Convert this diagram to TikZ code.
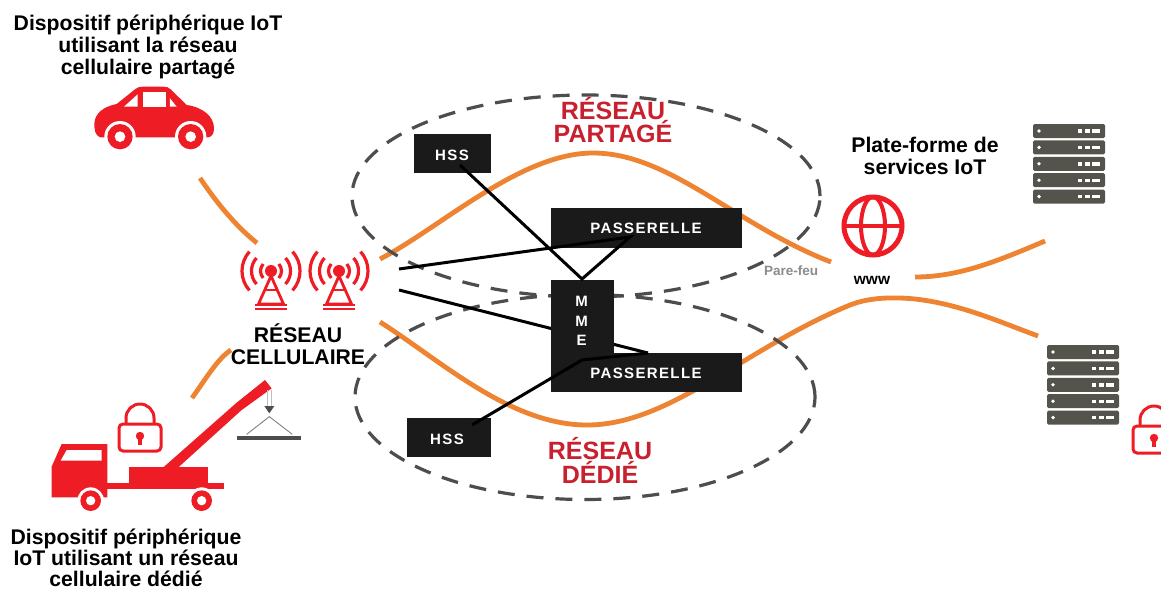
\documentclass[tikz,border=0pt]{standalone}
\usepackage{fontspec}
\setmainfont{Liberation Sans}
\newfontfamily\spacedsans[LetterSpace=9]{Liberation Sans}
\usetikzlibrary{shapes.geometric,calc}
\definecolor{iconred}{HTML}{EE1C25}
\definecolor{titlered}{HTML}{C9202F}
\definecolor{wire}{HTML}{EE8431}
\definecolor{boxblack}{HTML}{1A1A1A}
\definecolor{dashgrey}{HTML}{4D4D4D}
\definecolor{rackgrey}{HTML}{55544C}
\definecolor{firegrey}{HTML}{8C8C8C}
\tikzset{
  wireline/.style={draw=wire,line width=4.8pt},
  netzone/.style={ellipse,draw=dashgrey,line width=3.2pt,dash pattern=on 17pt off 12pt,inner sep=0pt,minimum width=#1},
  blackbox/.style={rectangle,fill=boxblack,inner sep=0pt},
  boxtext/.style={inner sep=0pt,align=center,text=white,font=\fontsize{15}{19.5}\selectfont\spacedsans\bfseries},
  linkline/.style={draw=black,line width=3pt},
  caption/.style={align=center,inner sep=0pt,text=black,font=\fontsize{21.2}{22}\selectfont\bfseries},
  zonetitle/.style={align=center,inner sep=0pt,text=titlered,font=\fontsize{25}{21}\selectfont\bfseries},
}
\newcommand{\mytower}[2]{%
  \foreach \rr in {10.5,19.5,29}{
    \draw[iconred,line width=3.2pt] ([shift={(42:\rr)}]#1,#2) arc[start angle=-42,end angle=42,radius=\rr pt];
    \draw[iconred,line width=3.2pt] ([shift={(138:\rr)}]#1,#2) arc[start angle=-138,end angle=-222,radius=\rr pt];
  }
  \fill[iconred] (#1,#2) circle (6);
  \draw[iconred,line width=2.8pt,line join=miter] (#1,#2+5) -- (#1-12.5,#2+33) -- (#1+12.5,#2+33) -- cycle;
  \draw[iconred,line width=2pt] (#1-6.5,#2+19) -- (#1+6.5,#2+19);
  \draw[iconred,line width=2.2pt] (#1-16,#2+34) -- (#1+16,#2+34);
  \draw[iconred,line width=2.2pt] (#1-16,#2+38) -- (#1+16,#2+38);
}
\newcommand{\mylock}[2]{%
  \draw[iconred,line width=3pt,rounded corners=4pt] (#1,#2+21) rectangle (#1+42,#2+48);
  \draw[iconred,line width=3pt] (#1+7,#2+21) -- (#1+7,#2+15) arc[start angle=180,end angle=0,radius=14pt] -- (#1+35,#2+21);
  \fill[iconred] (#1+21,#2+33) circle (4.2);
  \fill[iconred] (#1+19,#2+34) rectangle (#1+23,#2+42);
}
\newcommand{\myrack}[2]{%
  \foreach \n in {0,...,4}{
    \fill[rackgrey,rounded corners=1.5pt] (#1,#2+16.4*\n) rectangle (#1+72,#2+16.4*\n+14);
    \fill[white] (#1+6,#2+16.4*\n+7) circle (1.9);
    \fill[white] (#1+45,#2+16.4*\n+5.3) rectangle (#1+49,#2+16.4*\n+8.7);
    \fill[white] (#1+52,#2+16.4*\n+5.3) rectangle (#1+57,#2+16.4*\n+8.7);
    \fill[white] (#1+59,#2+16.4*\n+5.3) rectangle (#1+67,#2+16.4*\n+8.7);
  }
}
\begin{document}
\begin{tikzpicture}[x=1pt,y=-1pt]
\useasboundingbox (0,0) rectangle (1161,590);
\clip (0,0) rectangle (1161,590);
\fill[white] (0,0) rectangle (1161,590);

% free ends of the wires
\coordinate (carwireA) at (200,178);
\coordinate (carwireB) at (257,243);
\coordinate (truckwireA) at (231,350);
\coordinate (truckwireB) at (192,398);
\coordinate (sharedA) at (380,259);
\coordinate (sharedPeak) at (593,153);
\coordinate (sharedB) at (831,262);
\coordinate (dedicA) at (380,322);
\coordinate (dedicLow) at (587,425);
\coordinate (dedicHigh) at (850,305);
\coordinate (dedicB) at (915,299);
\coordinate (dedicC) at (1038,336);
\coordinate (srvA) at (915,277);
\coordinate (srvB) at (1045,241);

% orange wires
\draw[wireline] (carwireA) .. controls (218,205) and (238,228) .. (carwireB);
\draw[wireline] (truckwireA) .. controls (218,358) and (205,380) .. (truckwireB);
\draw[wireline] (sharedA) .. controls (440,228) and (520,153) .. (sharedPeak) .. controls (670,153) and (735,225) .. (sharedB);
\draw[wireline] (dedicA) .. controls (440,360) and (510,425) .. (dedicLow) .. controls (670,425) and (745,348) .. (dedicHigh) .. controls (870,297) and (895,297) .. (dedicB) .. controls (960,304) and (1000,322) .. (dedicC);
\draw[wireline] (srvA) .. controls (960,277) and (1000,260) .. (srvB);

% dashed zones
\node[netzone=468pt,minimum height=202pt] (zoneshared) at (586,196) {};
\node[netzone=460pt,minimum height=205pt] (zonededic) at (585,397) {};

% car
\begin{scope}[shift={(0,60)},x=0.33333pt,y=-0.33333pt]
  \fill[iconred] (300,232) .. controls (285,225) and (283,210) .. (283,190) .. controls (285,160) and (310,140) .. (350,132) -- (405,88) .. controls (412,82) and (418,80) .. (430,80) -- (490,80) .. controls (500,80) and (505,82) .. (512,88) -- (560,135) .. controls (610,142) and (642,170) .. (642,205) .. controls (642,222) and (635,230) .. (625,232) -- cycle;
  \fill[white] (372,140) -- (413,140) -- (413,103) -- cycle;
  \fill[white] (428,95) -- (497,95) -- (497,140) -- (428,140) -- cycle;
  \fill[white] (510,115) -- (530,140) -- (510,140) -- cycle;
  \foreach \wx in {360,572}{
    \fill[white] (\wx,230) circle (47);
    \fill[iconred] (\wx,230) circle (38);
    \fill[white] (\wx,230) circle (16);
  }
\end{scope}

% truck
\begin{scope}[shift={(30,360)},x=0.33333pt,y=-0.33333pt]
  \fill[iconred] (65,412) -- (65,320) -- (95,252) -- (232,252) -- (232,412) -- cycle;
  \fill[white] (92,302) -- (110,270) -- (215,270) -- (215,302) -- cycle;
  \fill[iconred] (232,370) rectangle (583,387);
  \fill[iconred] (297,322) rectangle (535,370);
  \fill[iconred] (400,322) -- (620,128) -- (705,60) -- (725,85) -- (635,150) -- (445,322) -- cycle;
  \foreach \wx in {182,515}{
    \fill[white] (\wx,422) circle (40);
    \fill[iconred] (\wx,422) circle (31);
    \fill[white] (\wx,422) circle (14);
  }
  \draw[gray!50,line width=0.6pt] (711,90) -- (711,138) (724,90) -- (724,138);
  \fill[dashgrey] (703,138) -- (733,138) -- (718,160) -- cycle;
  \draw[gray,line width=0.9pt] (650,223) -- (718,170) -- (787,223);
  \fill[dashgrey] (620,228) rectangle (812,240);
\end{scope}

\mylock{119}{403}
\mylock{1133}{405}
\mytower{271}{271}
\mytower{339}{271}
\myrack{1033}{124}
\myrack{1047}{345}

% globe
\draw[iconred,line width=5pt] (873,226) circle (29);
\draw[iconred,line width=4pt] (873,226) ellipse (12 and 29);
\draw[iconred,line width=3.6pt] (844,226) -- (902,226);

% link that passes behind the MME box
\coordinate (antB) at (399,290);
\coordinate (gwBin) at (648,353);
\draw[linkline] (antB) -- (gwBin);

% boxes
\node[blackbox,minimum width=63pt,minimum height=112pt] (mme) at (582.5,336) {};
\node[blackbox,minimum width=77pt,minimum height=39pt] (hssA) at (452.5,153.5) {};
\node[blackbox,minimum width=84pt,minimum height=39pt] (hssB) at (449,437.5) {};
\node[blackbox,minimum width=191pt,minimum height=40pt] (gwA) at (646.5,228) {};
\node[blackbox,minimum width=191pt,minimum height=39pt] (gwB) at (646.5,372.5) {};

% black links
\coordinate (antA) at (399,269);
\coordinate (hssAout) at (460,165);
\coordinate (hssBout) at (472,425);
\coordinate (gwAin) at (630,237);
\coordinate (mmeTop) at (582,279);
\coordinate (mmeLow) at (582,360);
\draw[linkline] (hssAout) -- (mmeTop) -- (gwAin) -- (antA);
\draw[linkline] (gwBin) -- (mmeLow) -- (hssBout);

% labels
\node[boxtext] (hssAtext) at (452,155) {HSS};
\node[boxtext] (hssBtext) at (447,439) {HSS};
\node[boxtext] (gwAtext) at (646,228) {PASSERELLE};
\node[boxtext] (gwBtext) at (646,373.5) {PASSERELLE};
\node[boxtext] (mmetext) at (581.5,321) {M\\M\\E};
\node[caption] (devshared) at (148,47) {Dispositif périphérique IoT\\utilisant la réseau\\cellulaire partagé};
\node[caption,font=\fontsize{21.2}{21}\selectfont\bfseries] (devdedic) at (126,558) {Dispositif périphérique\\IoT utilisant un réseau\\cellulaire dédié};
\node[caption] (cell) at (298,344) {RÉSEAU\\CELLULAIRE};
\node[caption] (platform) at (925,156) {Plate-forme de\\services IoT};
\node[zonetitle] (titleshared) at (613,120) {RÉSEAU\\PARTAGÉ};
\node[zonetitle] (titlededic) at (600,460.5) {RÉSEAU\\DÉDIÉ};
\node[inner sep=0pt,font=\fontsize{13.5}{14}\selectfont\bfseries,text=firegrey] (fire) at (791,271) {Pare-feu};
\node[inner sep=0pt,font=\fontsize{15.5}{18}\selectfont\bfseries] (www) at (872,280) {www};
\end{tikzpicture}
\end{document}
